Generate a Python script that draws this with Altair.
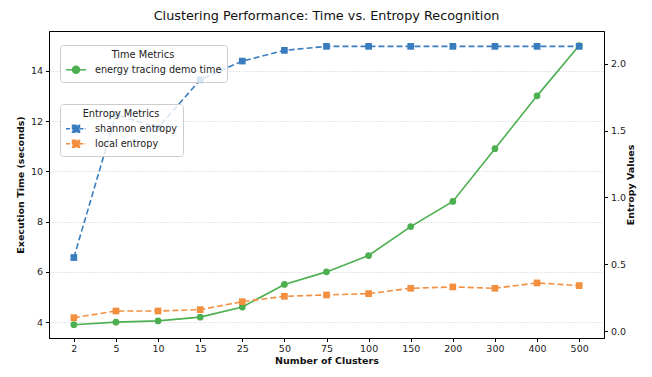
import altair as alt
import pandas as pd

clusters = ["2", "5", "10", "15", "25", "50", "75", "100", "150", "200", "300", "400", "500"]
demo_time = [3.9, 4.0, 4.05, 4.2, 4.6, 5.5, 6.0, 6.65, 7.8, 8.8, 10.9, 13.0, 15.0]
shannon = [0.55, 1.62, 1.52, 1.88, 2.02, 2.10, 2.13, 2.13, 2.13, 2.13, 2.13, 2.13, 2.13]
local = [0.10, 0.15, 0.15, 0.16, 0.22, 0.26, 0.27, 0.28, 0.32, 0.33, 0.32, 0.36, 0.34]

time_names = ["energy tracing demo time"]
entropy_names = ["shannon entropy", "local entropy"]
GREEN, BLUE, ORANGE = "#4caf50", "#3a7dbf", "#f39040"
FONT = "DejaVu Sans"

time_df = pd.DataFrame({"clusters": clusters, "value": demo_time, "series": time_names[0]})
ent_df = pd.concat([
    pd.DataFrame({"clusters": clusters, "value": shannon, "series": entropy_names[0]}),
    pd.DataFrame({"clusters": clusters, "value": local, "series": entropy_names[1]}),
])

x_enc = alt.X("clusters:N", sort=clusters,
              scale=alt.Scale(type="point", padding=0.59),
              axis=alt.Axis(title="Number of Clusters", labelAngle=0, grid=False,
                            labelPadding=2, titlePadding=2))

# legend glyphs: a line with a marker in the middle (units of half the symbol size)
circle_sym = "M-1.43,0L-0.5,0M0.5,0L1.43,0M-0.5,0A0.5,0.5,0,1,1,0.5,0A0.5,0.5,0,1,1,-0.5,0Z"
square_sym = "M-1.43,0L-0.5,0M0.5,0L1.43,0M-0.5,-0.5L0.5,-0.5L0.5,0.5L-0.5,0.5Z"

legend_common = dict(orient="none", fillColor="rgba(255,255,255,0.8)", strokeColor="#cccccc",
                     cornerRadius=3, padding=5, titleAnchor="middle", titleFontSize=9.8,
                     titleFontWeight="normal", labelFontSize=9.7, titleFont=FONT, labelFont=FONT,
                     symbolSize=196, symbolStrokeWidth=1.5, labelOffset=11, rowPadding=0,
                     titlePadding=2, labelColor="#222", titleColor="#222", symbolOffset=3)

y_time = alt.Y("value:Q",
               scale=alt.Scale(domain=[3.37, 15.58], nice=False, zero=False),
               axis=alt.Axis(title="Execution Time (seconds)", values=[4, 6, 8, 10, 12, 14],
                             grid=True, gridDash=[1, 2], gridColor="#cccccc", orient="left"))

time_color = alt.Color("series:N",
                       scale=alt.Scale(domain=time_names, range=[GREEN]),
                       legend=alt.Legend(title="Time Metrics", legendX=11, legendY=14,
                                         symbolType=circle_sym, symbolFillColor=GREEN,
                                         **legend_common))

time_base = alt.Chart(time_df).encode(x=x_enc, y=y_time, color=time_color)
time_layer = alt.layer(
    time_base.mark_line(strokeWidth=1.6),
    time_base.mark_point(shape="circle", filled=True, size=45, opacity=1),
)

y_ent = alt.Y("value:Q",
              scale=alt.Scale(domain=[-0.052, 2.245], nice=False, zero=False),
              axis=alt.Axis(title="Entropy Values", values=[0, 0.5, 1.0, 1.5, 2.0], format=".1f",
                            grid=False, orient="right", titleAngle=270, titlePadding=10))

ent_color = alt.Color("series:N",
                      scale=alt.Scale(domain=entropy_names, range=[BLUE, ORANGE]),
                      legend=alt.Legend(title="Entropy Metrics", legendX=11, legendY=73,
                                        symbolType=square_sym, symbolDash=[4, 2],
                                        **legend_common))

ent_base = alt.Chart(ent_df).encode(x=x_enc, y=y_ent, color=ent_color)
ent_layer = alt.layer(
    ent_base.mark_line(strokeWidth=1.6, strokeDash=[6, 3]),
    ent_base.mark_point(shape="square", filled=True, size=45, opacity=1),
)

chart = alt.layer(time_layer, ent_layer).resolve_scale(
    y="independent", color="independent"
).properties(
    width=555, height=307,
    autosize=alt.AutoSizeParams(type="none"),
    padding={"left": 41, "top": 23, "right": 40, "bottom": 31},
    title=alt.Title("Clustering Performance: Time vs. Entropy Recognition",
                    fontSize=12.8, fontWeight="normal", font=FONT, anchor="middle",
                    offset=8, color="#111"),
).configure_view(
    stroke="black", strokeWidth=1
).configure_axis(
    labelFont=FONT, titleFont=FONT, labelFontSize=9.5, titleFontSize=9.5,
    titleFontWeight="bold", labelColor="#222", titleColor="#111",
    domainColor="black", tickColor="black", tickSize=3.5, domainWidth=1,
    labelPadding=3, titlePadding=5
)

chart.save("out.html", embed_options={"renderer": "svg", "actions": False})
